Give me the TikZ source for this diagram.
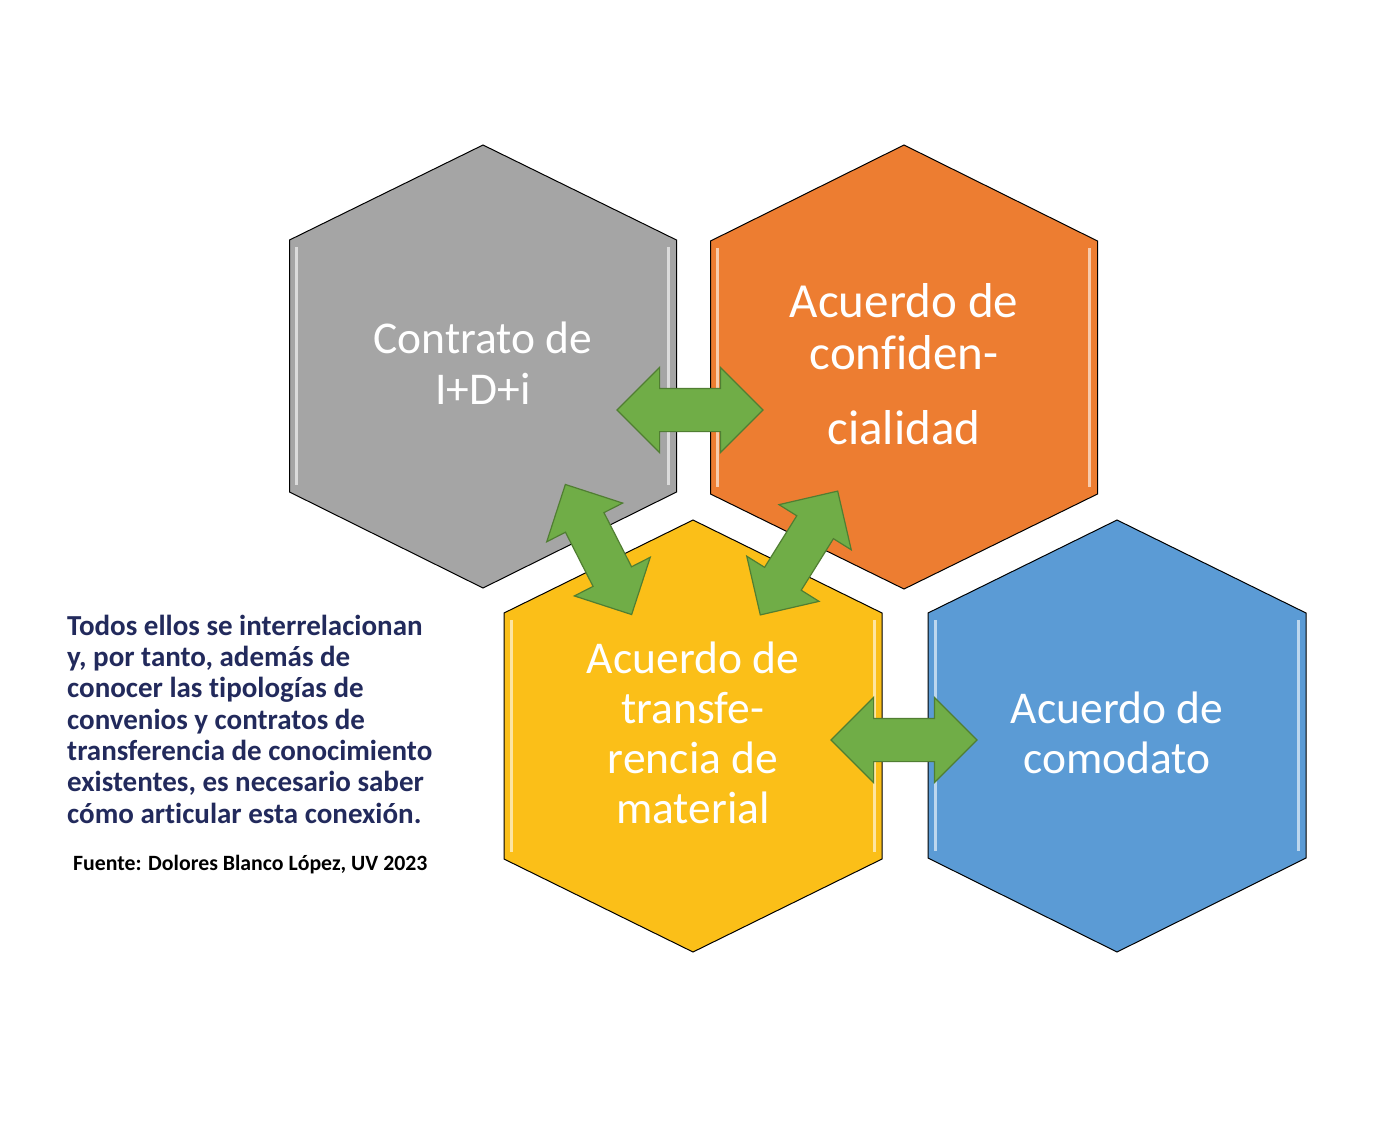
\documentclass[tikz,border=0pt]{standalone}
\usepackage{fontspec}
\setmainfont{Carlito}[Ligatures=NoCommon]
\usetikzlibrary{shapes.arrows}
\definecolor{hgrey}{HTML}{A5A5A5}
\definecolor{horange}{HTML}{ED7D31}
\definecolor{hyellow}{HTML}{FBBF18}
\definecolor{hblue}{HTML}{5B9BD5}
\definecolor{agreen}{HTML}{70AD47}
\definecolor{agreendark}{HTML}{507E32}
\definecolor{navy}{HTML}{222A5C}
\newcommand{\hexpath}[7]{% cx, top, halfwidth, v1, v2, bottom, colour
  \path[hexa=#7] (#1,#2) -- ({#1+#3},#4) -- ({#1+#3},#5) -- (#1,#6) -- ({#1-#3},#5) -- ({#1-#3},#4) -- cycle;
  \draw[bevel] ({#1-#3+7},{#4+7}) -- ({#1-#3+7},{#5-7});
  \draw[bevel] ({#1+#3-8},{#4+7}) -- ({#1+#3-8},{#5-7});
}
\begin{document}
\begin{tikzpicture}[x=1pt,y=-1pt,
  hexa/.style={draw=black, line width=1pt, fill=#1},
  bevel/.style={draw=white, line width=3pt, opacity=0.6},
  dblarrow/.style={shape=double arrow, draw=agreendark, fill=agreen, line width=1.2pt,
    minimum height=146pt, double arrow head extend=21pt,
    double arrow tip angle=90, inner xsep=0pt, inner ysep=21pt},
  hextext/.style={text=white, align=center, inner sep=0pt, anchor=base,
    font=\fontsize{45.5}{50}\selectfont},
  note/.style={text=navy, align=left, inner sep=0pt, anchor=base west,
    font=\bfseries\fontsize{29}{31.3}\selectfont},
  source/.style={text=black, inner sep=0pt, anchor=base west,
    font=\bfseries\fontsize{21.8}{24}\selectfont}]
\useasboundingbox[fill=white] (0,0) rectangle (1373,1125);

% hexagons
\hexpath{483}{145}{193.5}{240}{492}{588}{hgrey}
\hexpath{904}{145}{193.5}{241}{494}{589}{horange}
\hexpath{693}{520}{189}{613}{859}{952}{hyellow}
\hexpath{1117}{520}{189}{613}{858}{952}{hblue}

% labels (base anchor = baseline of last line)
\node[hextext, font=\fontsize{45.5}{51}\selectfont] (grey) at (483,404) {Contrato de\\I+D+i};
\node[hextext, font=\fontsize{49}{52}\selectfont] (orange) at (904,444) {Acuerdo de\\confiden-\\[23pt]cialidad};
\node[hextext, font=\fontsize{45.5}{49.7}\selectfont] (yellow) at (693,823) {Acuerdo de\\transfe-\\rencia de\\material};
\node[hextext] (blue) at (1117,773) {Acuerdo de\\comodato};

% double arrows
\node[dblarrow] (a1) at (690,410) {};
\node[dblarrow] (a2) at (904,740) {};
\node[dblarrow, rotate=-63] (a3) at (598.5,549.5) {};
\node[dblarrow, rotate=58] (a4) at (799,553) {};

% side text
\node[note] (txt) at (67,823) {Todos ellos se interrelacionan\\y, por tanto, además de\\conocer las tipologías de\\convenios y contratos de\\transferencia de conocimiento\\existentes, es necesario saber\\cómo articular esta conexión.};
\node[source] (src) at (73,870) {Fuente: Dolores Blanco López, UV 2023};
\end{tikzpicture}
\end{document}
